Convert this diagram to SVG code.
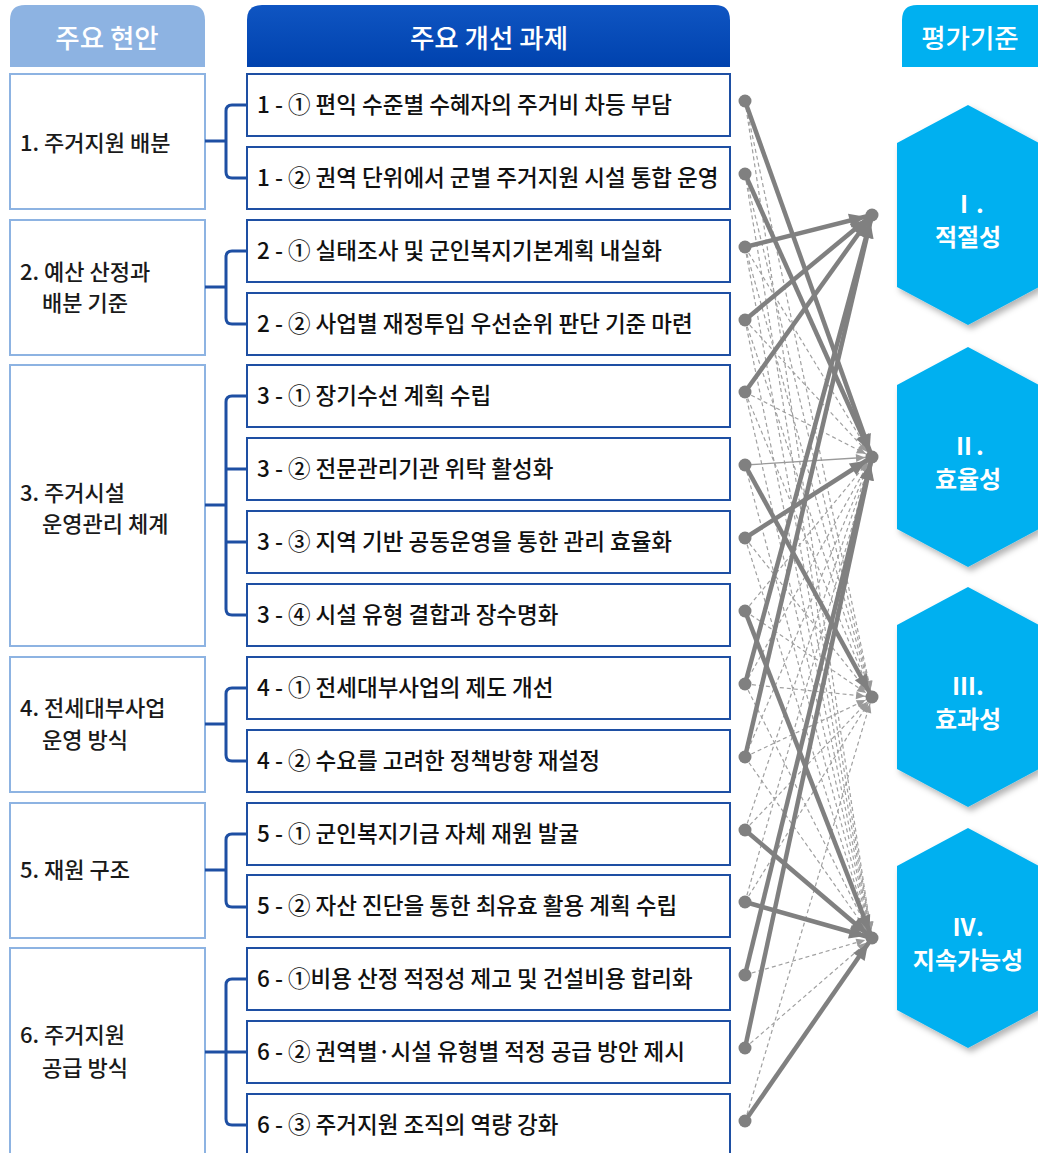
<svg xmlns="http://www.w3.org/2000/svg" width="1038" height="1153" viewBox="0 0 1038 1153">
<defs>
<style>
text{font-family:"Noto Sans CJK KR","Noto Sans",sans-serif}
.hd{font-size:26.5px;fill:#fff;font-weight:500;text-anchor:middle}
.lb{fill:#fff;stroke:#8DB3E2;stroke-width:2}
.mb{fill:#fff;stroke:#1E4FA3;stroke-width:2}
.lt{font-size:22px;fill:#1a1a1a;font-weight:500}
.mt{font-size:22.5px;fill:#111;font-weight:500}
.br{fill:none;stroke:#1E4FA3;stroke-width:3}
.hex{fill:#00B0F0;filter:url(#sh)}
.ht{font-size:24px;fill:#fff;font-weight:700;text-anchor:middle}
.s{stroke:#808080;stroke-width:4.5;fill:none;marker-end:url(#ab)}
.t{stroke:#9a9a9a;stroke-width:1.3;fill:none;marker-end:url(#as)}
.d{stroke:#a0a0a0;stroke-width:1.2;stroke-dasharray:4 3;fill:none;marker-end:url(#as)}
.dot{fill:#808080}
</style>
<marker id="ab" markerUnits="userSpaceOnUse" markerWidth="24" markerHeight="14" refX="23" refY="7" orient="auto" overflow="visible"><path d="M0,0 L16,7 L0,14 z" fill="#808080"/></marker>
<marker id="as" markerUnits="userSpaceOnUse" markerWidth="17" markerHeight="8" refX="16" refY="4" orient="auto" overflow="visible"><path d="M0,0 L9,4 L0,8 z" fill="#9a9a9a"/></marker>
<filter id="sh" x="-20%" y="-20%" width="150%" height="150%"><feDropShadow dx="3" dy="4" stdDeviation="3" flood-color="#000" flood-opacity="0.3"/></filter>
<linearGradient id="hg" x1="0" y1="0" x2="0" y2="1"><stop offset="0" stop-color="#0F55C2"/><stop offset="1" stop-color="#0042AE"/></linearGradient>
</defs>
<rect width="1038" height="1153" fill="#fff"/>

<g id="headers">
<path d="M10,67 V20 Q10,5 25,5 H190 Q205,5 205,20 V67 Z" fill="#8DB3E2"/>
<text class="hd" x="107" y="48">주요 현안</text>
<path d="M247,67 V20 Q247,5 262,5 H715 Q730,5 730,20 V67 Z" fill="url(#hg)"/>
<text class="hd" x="489" y="48">주요 개선 과제</text>
<path d="M902,67 V20 Q902,5 917,5 H1038 V67 Z" fill="#00B0F0"/>
<text class="hd" x="970" y="48">평가기준</text>
</g>

<g id="issue1"><rect class="lb" x="10" y="74" width="195" height="135"/><text class="lt" x="20" y="151">1. 주거지원 배분</text></g>
<g id="issue2"><rect class="lb" x="10" y="220" width="195" height="135"/><text class="lt" x="20" y="280">2. 예산 산정과</text><text class="lt" x="42" y="311">배분 기준</text></g>
<g id="issue3"><rect class="lb" x="10" y="365" width="195" height="281"/><text class="lt" x="20" y="501">3. 주거시설</text><text class="lt" x="42" y="532">운영관리 체계</text></g>
<g id="issue4"><rect class="lb" x="10" y="657" width="195" height="135"/><text class="lt" x="20" y="716">4. 전세대부사업</text><text class="lt" x="42" y="748">운영 방식</text></g>
<g id="issue5"><rect class="lb" x="10" y="803" width="195" height="135"/><text class="lt" x="20" y="878">5. 재원 구조</text></g>
<g id="issue6"><rect class="lb" x="10" y="948" width="195" height="215"/><text class="lt" x="20" y="1043">6. 주거지원</text><text class="lt" x="42" y="1076">공급 방식</text></g>

<g id="brackets">
<path class="br" d="M205,141 H226 M247,105 H232 Q226,105 226,111 V172 Q226,178 232,178 H247"/>
<path class="br" d="M205,287 H226 M247,251 H232 Q226,251 226,257 V318 Q226,324 232,324 H247"/>
<path class="br" d="M205,505 H226 M247,396 H232 Q226,396 226,402 V609 Q226,615 232,615 H247 M226,469 H247 M226,542 H247"/>
<path class="br" d="M205,724 H226 M247,688 H232 Q226,688 226,694 V755 Q226,761 232,761 H247"/>
<path class="br" d="M205,870 H226 M247,834 H232 Q226,834 226,840 V901 Q226,907 232,907 H247"/>
<path class="br" d="M205,1052 H226 M247,979 H232 Q226,979 226,985 V1119 Q226,1125 232,1125 H247 M226,1052 H247"/>
</g>

<g id="task1-1"><rect class="mb" x="247" y="74" width="483" height="62"/><text class="mt" x="257" y="113">1 - ① 편익 수준별 수혜자의 주거비 차등 부담</text></g>
<g id="task1-2"><rect class="mb" x="247" y="147" width="483" height="62"/><text class="mt" x="257" y="186">1 - ② 권역 단위에서 군별 주거지원 시설 통합 운영</text></g>
<g id="task2-1"><rect class="mb" x="247" y="220" width="483" height="62"/><text class="mt" x="257" y="259">2 - ① 실태조사 및 군인복지기본계획 내실화</text></g>
<g id="task2-2"><rect class="mb" x="247" y="293" width="483" height="62"/><text class="mt" x="257" y="332">2 - ② 사업별 재정투입 우선순위 판단 기준 마련</text></g>
<g id="task3-1"><rect class="mb" x="247" y="365" width="483" height="62"/><text class="mt" x="257" y="404">3 - ① 장기수선 계획 수립</text></g>
<g id="task3-2"><rect class="mb" x="247" y="438" width="483" height="62"/><text class="mt" x="257" y="477">3 - ② 전문관리기관 위탁 활성화</text></g>
<g id="task3-3"><rect class="mb" x="247" y="511" width="483" height="62"/><text class="mt" x="257" y="550">3 - ③ 지역 기반 공동운영을 통한 관리 효율화</text></g>
<g id="task3-4"><rect class="mb" x="247" y="584" width="483" height="62"/><text class="mt" x="257" y="623">3 - ④ 시설 유형 결합과 장수명화</text></g>
<g id="task4-1"><rect class="mb" x="247" y="657" width="483" height="62"/><text class="mt" x="257" y="696">4 - ① 전세대부사업의 제도 개선</text></g>
<g id="task4-2"><rect class="mb" x="247" y="730" width="483" height="62"/><text class="mt" x="257" y="769">4 - ② 수요를 고려한 정책방향 재설정</text></g>
<g id="task5-1"><rect class="mb" x="247" y="803" width="483" height="62"/><text class="mt" x="257" y="842">5 - ① 군인복지기금 자체 재원 발굴</text></g>
<g id="task5-2"><rect class="mb" x="247" y="875" width="483" height="62"/><text class="mt" x="257" y="914">5 - ② 자산 진단을 통한 최유효 활용 계획 수립</text></g>
<g id="task6-1"><rect class="mb" x="247" y="948" width="483" height="62"/><text class="mt" x="257" y="987">6 - ①비용 산정 적정성 제고 및 건설비용 합리화</text></g>
<g id="task6-2"><rect class="mb" x="247" y="1021" width="483" height="62"/><text class="mt" x="257" y="1060">6 - ② 권역별·시설 유형별 적정 공급 방안 제시</text></g>
<g id="task6-3"><rect class="mb" x="247" y="1094" width="483" height="62"/><text class="mt" x="257" y="1133">6 - ③ 주거지원 조직의 역량 강화</text></g>

<g id="crit1"><polygon class="hex" points="968,105 1039,143 1039,287 968,325 897,287 897,143"/><text class="ht" x="968" y="213">Ⅰ.</text><text class="ht" x="968" y="246">적절성</text></g>
<g id="crit2"><polygon class="hex" points="968,347 1039,385 1039,529 968,567 897,529 897,385"/><text class="ht" x="968" y="455">Ⅱ.</text><text class="ht" x="968" y="488">효율성</text></g>
<g id="crit3"><polygon class="hex" points="968,587 1039,625 1039,769 968,807 897,769 897,625"/><text class="ht" x="968" y="695">Ⅲ.</text><text class="ht" x="968" y="728">효과성</text></g>
<g id="crit4"><polygon class="hex" points="968,828 1039,866 1039,1010 968,1048 897,1010 897,866"/><text class="ht" x="968" y="936">Ⅳ.</text><text class="ht" x="968" y="969">지속가능성</text></g>

<g id="connectors">
<path class="d" d="M745,101 L872,697"/><path class="d" d="M745,101 L872,938"/>
<path class="d" d="M745,174 L872,697"/><path class="d" d="M745,174 L872,938"/>
<path class="d" d="M745,247 L872,457"/><path class="d" d="M745,247 L872,697"/><path class="d" d="M745,247 L872,938"/>
<path class="d" d="M745,320 L872,457"/><path class="d" d="M745,320 L872,697"/><path class="d" d="M745,320 L872,938"/>
<path class="d" d="M745,392 L872,457"/><path class="d" d="M745,392 L872,697"/><path class="d" d="M745,392 L872,938"/>
<path class="d" d="M745,465 L872,938"/>
<path class="d" d="M745,538 L872,697"/><path class="d" d="M745,538 L872,938"/>
<path class="d" d="M745,611 L872,457"/><path class="d" d="M745,611 L872,697"/>
<path class="d" d="M745,684 L872,457"/><path class="d" d="M745,684 L872,697"/><path class="d" d="M745,684 L872,938"/>
<path class="d" d="M745,757 L872,457"/><path class="d" d="M745,757 L872,697"/><path class="d" d="M745,757 L872,938"/>
<path class="d" d="M745,830 L872,457"/><path class="d" d="M745,830 L872,697"/>
<path class="d" d="M745,902 L872,457"/><path class="d" d="M745,902 L872,697"/>
<path class="d" d="M745,975 L872,938"/>
<path class="d" d="M745,1048 L872,938"/>
<path class="d" d="M745,1121 L872,697"/>
<path class="t" d="M745,465 L872,457"/>
<path class="s" d="M745,101 L872,457"/>
<path class="s" d="M745,174 L872,457"/>
<path class="s" d="M745,247 L872,215"/>
<path class="s" d="M745,320 L872,215"/>
<path class="s" d="M745,392 L872,215"/>
<path class="s" d="M745,465 L872,697"/>
<path class="s" d="M745,538 L872,457"/>
<path class="s" d="M745,611 L872,938"/>
<path class="s" d="M745,684 L872,215"/>
<path class="s" d="M745,757 L872,215"/>
<path class="s" d="M745,830 L872,938"/>
<path class="s" d="M745,902 L872,938"/>
<path class="s" d="M745,975 L872,457"/>
<path class="s" d="M745,1048 L872,457"/>
<path class="s" d="M745,1121 L872,938"/>
</g>

<g id="ports">
<circle class="dot" cx="745" cy="101" r="6.5"/><circle class="dot" cx="745" cy="174" r="6.5"/><circle class="dot" cx="745" cy="247" r="6.5"/><circle class="dot" cx="745" cy="320" r="6.5"/><circle class="dot" cx="745" cy="392" r="6.5"/><circle class="dot" cx="745" cy="465" r="6.5"/><circle class="dot" cx="745" cy="538" r="6.5"/><circle class="dot" cx="745" cy="611" r="6.5"/><circle class="dot" cx="745" cy="684" r="6.5"/><circle class="dot" cx="745" cy="757" r="6.5"/><circle class="dot" cx="745" cy="830" r="6.5"/><circle class="dot" cx="745" cy="902" r="6.5"/><circle class="dot" cx="745" cy="975" r="6.5"/><circle class="dot" cx="745" cy="1048" r="6.5"/><circle class="dot" cx="745" cy="1121" r="6.5"/>
<circle class="dot" cx="872" cy="215" r="6.5"/><circle class="dot" cx="872" cy="457" r="6.5"/><circle class="dot" cx="872" cy="697" r="6.5"/><circle class="dot" cx="872" cy="938" r="6.5"/>
</g>
</svg>
